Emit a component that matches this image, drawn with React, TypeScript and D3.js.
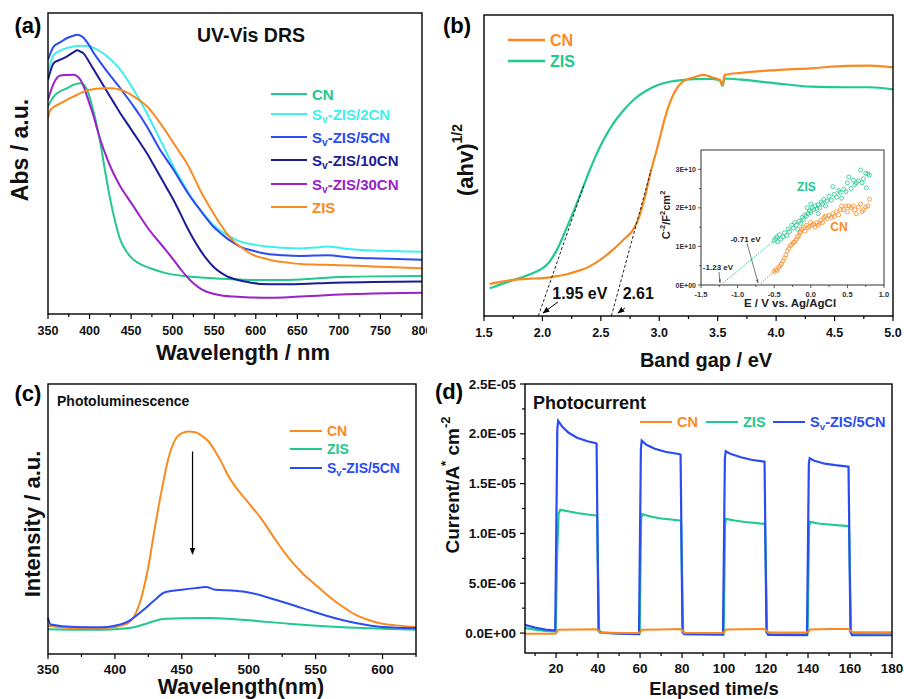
import React from 'react';
import * as d3 from 'd3';

const FONT = '"Liberation Sans", Arial, Helvetica, sans-serif';

const C_ORANGE = '#F98A1F';
const C_GREEN = '#20C98C';
const C_CYAN = '#3FEFF0';
const C_BLUE = '#2A4CF2';
const C_NAVY = '#1C1C96';
const C_PURPLE = '#9A22C8';

type Pt = [number, number];

// ---------- Panel (a): UV-Vis DRS ----------
const absCN: Pt[] = [[350,69],[357,72.3],[365,74],[373,75],[381,76.2],[389,76.7],[393,76.2],[397,74.5],[401,71.2],[405,67],[409,62.3],[413,56.8],[419,47],[425,37.9],[431,30.5],[437,24.6],[445,20.5],[453,18],[463,16.3],[473,15.2],[493,13.5],[513,12.6],[553,11.8],[593,11.3],[624,11.3],[654,11.5],[694,12.2],[740,12.5],[800,12.6]];
const abs2CN: Pt[] = [[350,80.6],[357,86.1],[365,87.5],[373,88.4],[381,88.9],[389,89.1],[397,89],[405,88.4],[413,87.2],[421,85.6],[429,83.6],[437,81.2],[445,78],[453,74.5],[461,70.8],[469,66.7],[477,62.3],[485,57.9],[493,53.4],[501,49],[509,45],[517,41.2],[525,37.7],[533,34.6],[541,31.9],[549,29.6],[557,27.8],[565,26.3],[573,25.1],[581,24.1],[597,23.1],[613,22.4],[633,22],[654,21.8],[674,22.1],[686,22.4],[700,22],[714,21.5],[750,21],[800,20.7]];
const abs5CN: Pt[] = [[350,84.5],[357,88.9],[365,90.3],[373,91.7],[381,92.5],[385,92.8],[389,92.5],[393,91.7],[399,89.5],[405,86.7],[413,83.6],[421,80.6],[429,77.8],[437,75],[445,72],[453,69],[461,65.8],[469,62.3],[477,58.4],[485,54.5],[493,51.2],[501,47.9],[509,44.3],[517,40.7],[525,37.5],[533,34.6],[541,31.7],[549,29],[557,27],[565,25.2],[573,23.7],[581,22.4],[597,21],[613,20],[633,19.5],[654,19.3],[686,19.5],[714,18.8],[750,18.4],[800,18]];
const abs10CN: Pt[] = [[350,77.8],[357,83.4],[365,84.5],[373,85.6],[381,87],[385,87.6],[389,87.2],[393,86.5],[399,84],[405,81.2],[413,77.6],[421,73.9],[429,70.3],[437,66.7],[445,63.4],[453,60.1],[461,56.8],[469,53.4],[477,49.6],[485,45.7],[493,41.8],[501,37.9],[509,33.5],[517,29],[525,24.9],[533,21.3],[541,18.2],[549,15.7],[557,13.9],[565,12.6],[573,11.7],[581,11.1],[593,10.5],[605,10],[630,9.9],[654,10],[694,10.4],[740,10.6],[800,10.8]];
const abs30CN: Pt[] = [[350,71.2],[357,76.7],[365,79.2],[373,79.4],[381,79.5],[385,79],[389,77.8],[393,75.5],[397,72.3],[401,69],[405,65.6],[409,61.6],[413,57.9],[419,53.2],[425,49],[431,45.5],[437,42.4],[445,39],[453,35.7],[461,32.3],[469,29],[477,26.1],[485,23.5],[493,20.8],[501,18],[509,15.1],[517,12.4],[525,10.2],[533,8.5],[541,7.4],[549,6.7],[561,6.1],[573,5.8],[593,5.5],[613,5.4],[633,5.5],[654,5.8],[674,6.1],[694,6.4],[740,6.8],[800,7.1]];
const absZIS: Pt[] = [[350,65.1],[353,67.8],[365,70],[373,71.2],[381,72.3],[389,73.4],[397,74.3],[407,74.8],[417,75],[427,75],[437,74.5],[445,73.6],[453,72.3],[461,70.8],[469,69],[477,66.4],[485,63.4],[493,60.2],[501,56.8],[509,53.5],[517,50.1],[525,45.8],[533,41.2],[541,37.2],[549,33.5],[557,30],[565,26.8],[573,24.3],[581,22.4],[589,20.9],[597,19.6],[610,18.5],[622,17.7],[638,17.1],[654,16.6],[674,16.4],[694,16.3],[740,15.8],[800,15.2]];
const aTicks = [350, 400, 450, 500, 550, 600, 650, 700, 750, 800];
const aLegend = ['CN', 'Sv-ZIS/2CN', 'Sv-ZIS/5CN', 'Sv-ZIS/10CN', 'Sv-ZIS/30CN', 'ZIS'];

// ---------- Panel (b): Tauc ----------
const taucCN: Pt[] = [[1.55,10.6],[1.65,11.4],[1.75,12],[1.9,12.4],[2.0,12.6],[2.1,13.1],[2.2,13.8],[2.3,14.9],[2.4,16.4],[2.5,18.8],[2.6,21.9],[2.7,25.6],[2.775,28.6],[2.83,33.2],[2.89,41.6],[2.93,48.5],[2.97,54],[3.0,58.5],[3.05,66],[3.1,71.8],[3.15,75.6],[3.2,77.8],[3.25,78.8],[3.3,79.3],[3.38,80.1],[3.45,79.3],[3.52,78.4],[3.54,76.7],[3.56,80.1],[3.7,80.8],[4.0,81.7],[4.3,82.3],[4.6,83.1],[4.8,83.2],[5.0,82.6]];
const taucZIS: Pt[] = [[1.55,9.2],[1.65,10.6],[1.75,11.9],[1.85,13.2],[1.95,14.8],[2.0,15.8],[2.05,17.5],[2.1,20.3],[2.15,24.1],[2.2,28.6],[2.25,33.2],[2.3,38],[2.35,43],[2.4,48],[2.45,52.6],[2.5,56.8],[2.6,63.6],[2.7,68.6],[2.8,72.5],[2.9,75.1],[3.0,76.9],[3.1,77.9],[3.2,78.4],[3.3,78.7],[3.45,78.8],[3.52,78.2],[3.54,76.4],[3.56,78.9],[3.7,78.5],[4.0,77.3],[4.3,76.2],[4.6,76],[4.8,76],[5.0,75.3]];
const tangentZIS: Pt[] = [[1.965, 0], [2.36, 44]];
const tangentCN: Pt[] = [[2.59, 0], [2.93, 48.5]];
const bTicks = [1.5, 2.0, 2.5, 3.0, 3.5, 4.0, 4.5, 5.0];

// Inset Mott-Schottky (y in 1E10)
const msZIS: Pt[] = [[-0.5,1.15],[-0.48,1.2],[-0.46,1.25],[-0.45,1.12],[-0.43,1.3],[-0.41,1.18],[-0.38,1.25],[-0.36,1.35],[-0.33,1.28],[-0.31,1.45],[-0.29,1.38],[-0.26,1.55],[-0.24,1.48],[-0.22,1.62],[-0.2,1.55],[-0.18,1.45],[-0.16,1.65],[-0.14,1.6],[-0.12,1.75],[-0.1,1.7],[-0.08,1.82],[-0.06,1.78],[-0.04,1.85],[-0.02,1.92],[0,1.88],[0.02,2.0],[0.04,1.95],[0.06,2.05],[0.08,1.98],[0.1,2.08],[0.12,2.0],[0.14,2.15],[0.16,2.1],[0.18,2.22],[0.2,2.05],[0.22,2.18],[0.25,2.3],[0.28,2.2],[0.3,2.55],[0.32,2.35],[0.35,2.28],[0.38,2.45],[0.4,2.4],[0.42,2.25],[0.45,2.48],[0.48,2.42],[0.5,2.65],[0.52,2.8],[0.55,2.5],[0.58,2.72],[0.6,2.6],[0.62,2.65],[0.65,2.7],[0.68,2.98],[0.7,2.65],[0.72,2.75],[0.75,2.9],[0.76,2.52],[0.78,2.88],[0.8,2.85],[0.0,2.1],[-0.05,2.0],[0.1,1.85]];
const msCN: Pt[] = [[-0.5,0.35],[-0.48,0.4],[-0.46,0.38],[-0.44,0.45],[-0.42,0.5],[-0.4,0.55],[-0.38,0.62],[-0.36,0.7],[-0.34,0.78],[-0.32,0.88],[-0.3,0.95],[-0.28,1.02],[-0.26,1.05],[-0.24,1.1],[-0.22,1.12],[-0.2,1.18],[-0.18,1.25],[-0.16,1.28],[-0.14,1.38],[-0.12,1.45],[-0.1,1.5],[-0.08,1.4],[-0.06,1.55],[-0.04,1.48],[-0.02,1.52],[0,1.62],[0.02,1.55],[0.04,1.58],[0.06,1.5],[0.08,1.62],[0.1,1.55],[0.12,1.6],[0.14,1.68],[0.16,1.62],[0.18,1.75],[0.2,1.78],[0.22,1.72],[0.25,1.8],[0.28,1.75],[0.3,1.85],[0.32,1.78],[0.35,1.9],[0.38,1.82],[0.4,1.95],[0.42,2.05],[0.45,1.95],[0.48,2.05],[0.5,1.9],[0.52,2.05],[0.55,2.0],[0.58,2.05],[0.6,1.95],[0.62,1.85],[0.65,2.02],[0.68,2.1],[0.7,1.9],[0.72,1.95],[0.75,2.02],[0.78,2.05],[0.8,2.22],[-0.15,1.35]];
const msFitZIS: Pt[] = [[-1.23, 0], [-0.5, 1.15]];
const msFitCN: Pt[] = [[-0.71, 0], [-0.5, 0.35]];
const insetXTicks = [-1.5, -1.0, -0.5, 0.0, 0.5, 1.0];
const insetYTicks = [0, 1, 2, 3];
const insetYLabels = ['0E+00', '1E+10', '2E+10', '3E+10'];

// ---------- Panel (c): PL ----------
const plCN: Pt[] = [[350,10.5],[370,9.6],[390,9.6],[400,10],[410,11.5],[415,14.5],[420,21.3],[425,32.4],[430,47.2],[435,60.8],[440,72.5],[445,79.3],[450,81.8],[455,82.4],[460,82.1],[465,80.8],[470,78.7],[475,75],[480,70.7],[485,65.7],[490,62],[500,55.9],[510,49.7],[520,42.3],[530,35.5],[540,30],[550,25.6],[560,21.3],[570,17.6],[580,14.5],[590,12.5],[600,11.2],[610,10.6],[625,10]];
const plZIS: Pt[] = [[350,9.2],[380,9],[400,9.2],[415,10],[425,11.5],[435,12.9],[450,13.2],[470,13.3],[500,12.5],[530,11.2],[560,10.2],[590,9.5],[625,9]];
const pl5CN: Pt[] = [[350,13.3],[352,10.9],[370,10],[390,9.9],[400,10.5],[410,12.1],[420,15.8],[430,20.1],[437,22.8],[450,23.8],[460,24.4],[468,24.8],[475,23.8],[490,23.4],[500,22.8],[520,20.1],[540,17],[560,13.9],[580,11.5],[600,10],[625,9.6]];
const cTicks = [350, 400, 450, 500, 550, 600];

// ---------- Panel (d): Photocurrent ----------
const pcCN: Pt[] = [[5,-7e-8],[19,-7e-8],[20,-3e-8],[21,3.3e-7],[30,3.5e-7],[39,3.8e-7],[40,3e-7],[41,2e-8],[59,0],[60,1e-7],[61,3.3e-7],[70,3.5e-7],[79,4e-7],[80,3e-7],[81,3e-8],[99,2e-8],[100,1e-7],[101,3.5e-7],[110,3.8e-7],[119,4.2e-7],[120,3e-7],[121,5e-8],[139,5e-8],[140,1e-7],[141,3.5e-7],[150,4e-7],[159,4.2e-7],[160,3e-7],[161,8e-8],[180,8e-8]];
const pcZIS: Pt[] = [[5,5e-7],[10,3.5e-7],[15,2.3e-7],[19,1.7e-7],[19.8,1.7e-7],[20.5,8e-6],[21.2,1.2e-5],[22,1.237e-5],[25,1.225e-5],[30,1.205e-5],[35,1.19e-5],[39,1.18e-5],[39.5,1.17e-5],[40.5,3e-7],[41.5,5e-8],[59,-5e-8],[59.8,-5e-8],[60.5,1.15e-5],[61,1.193e-5],[65,1.17e-5],[70,1.15e-5],[79,1.13e-5],[79.5,1.12e-5],[80.5,2e-7],[81.5,-8e-8],[99,-1e-7],[99.8,-1e-7],[100.5,1.1e-5],[101,1.146e-5],[105,1.13e-5],[110,1.115e-5],[119,1.096e-5],[119.5,1.09e-5],[120.5,2e-7],[121.5,-1e-7],[139,-1.2e-7],[139.8,-1.2e-7],[140.5,1.07e-5],[141,1.116e-5],[145,1.1e-5],[150,1.09e-5],[159,1.073e-5],[159.5,1.07e-5],[160.5,2e-7],[161.5,-5e-8],[180,0]];
const pc5CN: Pt[] = [[5,8.4e-7],[10,5.5e-7],[15,3.5e-7],[19,2.7e-7],[19.6,2.7e-7],[20.6,2.05e-5],[21,2.13e-5],[23,2.07e-5],[26,2.01e-5],[30,1.96e-5],[35,1.925e-5],[39,1.905e-5],[39.3,1.9e-5],[40.2,2e-7],[41,5e-8],[50,-5e-8],[59,-1e-7],[59.5,-1e-7],[60.4,1.85e-5],[60.8,1.932e-5],[63,1.89e-5],[67,1.85e-5],[72,1.82e-5],[79,1.795e-5],[79.3,1.79e-5],[80.2,1e-7],[81,-1.2e-7],[99,-1.5e-7],[99.5,-1.5e-7],[100.4,1.75e-5],[100.8,1.825e-5],[103,1.8e-5],[108,1.765e-5],[113,1.74e-5],[119,1.72e-5],[119.3,1.72e-5],[120.2,1e-7],[121,-1.8e-7],[139,-2e-7],[139.5,-2e-7],[140.4,1.7e-5],[140.8,1.755e-5],[143,1.73e-5],[148,1.7e-5],[153,1.685e-5],[159,1.671e-5],[159.3,1.67e-5],[160.2,1e-7],[161,-2.2e-7],[180,-2.2e-7]];
const dXTicks = [20, 40, 60, 80, 100, 120, 140, 160, 180];
const dYTicks = [0, 5e-6, 1e-5, 1.5e-5, 2e-5, 2.5e-5];
const dYLabels = ['0.0E+00', '5.0E-06', '1.0E-05', '1.5E-05', '2.0E-05', '2.5E-05'];

// ---------- helpers ----------
const txt = (size: number) => ({ fontFamily: FONT, fontWeight: 700, fontSize: size } as const);

function Sv({ rest, size }: { rest: string; size: number }) {
  const d = size * 0.3;
  return (
    <>
      <tspan>S</tspan>
      <tspan dy={d} fontSize={size * 0.68}>v</tspan>
      <tspan dy={-d}>{rest}</tspan>
    </>
  );
}

function LegendLabel({ label, size }: { label: string; size: number }) {
  if (label.startsWith('Sv')) return <Sv rest={label.slice(2)} size={size} />;
  return <>{label}</>;
}

function BottomTicks({ scale, y, major, minor, fmt, size, labelY, tickLen = 5, minorLen = 3, clip }: any) {
  return (
    <g>
      {minor.map((v: number, i: number) => (
        <line key={'m' + i} x1={scale(v)} x2={scale(v)} y1={y} y2={y + minorLen} stroke="#000" strokeWidth={1.2} />
      ))}
      {major.map((v: number, i: number) => (
        <line key={'M' + i} x1={scale(v)} x2={scale(v)} y1={y} y2={y + tickLen} stroke="#000" strokeWidth={1.2} />
      ))}
      <g clipPath={clip}>
        {major.map((v: number, i: number) => (
          <text key={'t' + i} x={scale(v)} y={labelY} textAnchor="middle" dominantBaseline="central" {...txt(size)} fill="#111">
            {fmt(v)}
          </text>
        ))}
      </g>
    </g>
  );
}

function range(a: number, b: number, step: number) {
  const out: number[] = [];
  for (let v = a; v <= b + 1e-9; v += step) out.push(+v.toFixed(10));
  return out;
}

export default function App() {
  // Panel a
  const ax = d3.scaleLinear().domain([350, 800]).range([48, 422]);
  const ay = d3.scaleLinear().domain([0, 100]).range([314, 13]);
  const aLine = d3.line<Pt>().x(d => ax(d[0])).y(d => ay(d[1])).curve(d3.curveMonotoneX);
  const aSeries = [absCN, abs2CN, abs5CN, abs10CN, abs30CN, absZIS];
  const aColors = [C_GREEN, C_CYAN, C_BLUE, C_NAVY, C_PURPLE, C_ORANGE];
  const aLegY = [94, 114, 137, 160, 184, 207];

  // Panel b
  const bx = d3.scaleLinear().domain([1.5, 5.0]).range([484, 893]);
  const by = d3.scaleLinear().domain([0, 100]).range([316, 15]);
  const bLine = d3.line<Pt>().x(d => bx(d[0])).y(d => by(d[1])).curve(d3.curveMonotoneX);
  const bLin = d3.line<Pt>().x(d => bx(d[0])).y(d => by(d[1]));

  // Inset
  const ix = d3.scaleLinear().domain([-1.5, 1.0]).range([701, 884]);
  const iy = d3.scaleLinear().domain([0, 3.5]).range([285, 150]);
  const iLin = d3.line<Pt>().x(d => ix(d[0])).y(d => iy(d[1]));

  // Panel c
  const cx = d3.scaleLinear().domain([350, 625]).range([48, 416]);
  const cy = d3.scaleLinear().domain([0, 100]).range([654, 384]);
  const cLine = d3.line<Pt>().x(d => cx(d[0])).y(d => cy(d[1])).curve(d3.curveMonotoneX);

  // Panel d
  const dx = d3.scaleLinear().domain([5.2, 180]).range([525, 892]);
  const dy = d3.scaleLinear().domain([-2e-6, 2.5e-5]).range([653, 384]);
  const dLine = d3.line<Pt>().x(d => dx(d[0])).y(d => dy(d[1]));

  const fmt1 = (v: number) => v.toFixed(1);

  return (
    <svg width={904} height={699} style={{ position: 'absolute', left: 0, top: 0, background: '#fff' }}>
      <defs>
        <clipPath id="clipA"><rect x={0} y={0} width={427} height={699} /></clipPath>
        <clipPath id="clipAPlot"><rect x={48} y={13} width={374} height={301} /></clipPath>
        <clipPath id="clipD"><rect x={525} y={384} width={367} height={269} /></clipPath>
        <marker id="arrBlack" viewBox="0 0 10 10" refX={9} refY={5} markerWidth={6} markerHeight={6} orient="auto">
          <path d="M0,1 L10,5 L0,9 z" fill="#000" />
        </marker>
        <marker id="arrSmall" viewBox="0 0 10 10" refX={9} refY={5} markerWidth={7} markerHeight={7} orient="auto">
          <path d="M0,1 L10,5 L0,9 z" fill="#000" />
        </marker>
        <marker id="arrGray" viewBox="0 0 10 10" refX={9} refY={5} markerWidth={5} markerHeight={5} orient="auto">
          <path d="M0,2 L10,5 L0,8 z" fill="#555" />
        </marker>
      </defs>

      {/* ================= Panel (a) ================= */}
      <g>
        <g clipPath="url(#clipAPlot)">
          {aSeries.map((s, i) => (
            <path key={i} d={aLine(s) || ''} fill="none" stroke={aColors[i]} strokeWidth={2} />
          ))}
        </g>
        <rect x={48} y={13} width={374} height={301} fill="none" stroke="#000" strokeWidth={1.4} />
        <BottomTicks scale={ax} y={314} major={aTicks} minor={range(375, 775, 50)} fmt={(v: number) => String(v)} size={12.5} labelY={331} clip="url(#clipA)" />
        <text x={28} y={25} textAnchor="middle" dominantBaseline="central" {...txt(22)}>(a)</text>
        <text x={251} y={35} textAnchor="middle" dominantBaseline="central" {...txt(19.5)} fill="#111">UV-Vis DRS</text>
        {aLegend.map((l, i) => (
          <g key={i}>
            <line x1={271} x2={307} y1={aLegY[i]} y2={aLegY[i]} stroke={aColors[i]} strokeWidth={2} />
            <text x={312} y={aLegY[i]} dominantBaseline="central" {...txt(15)} fill={aColors[i]}>
              <LegendLabel label={l} size={15} />
            </text>
          </g>
        ))}
        <text x={243} y={352} textAnchor="middle" dominantBaseline="central" {...txt(22)} fill="#111">Wavelength / nm</text>
        <text transform="translate(20,150) rotate(-90)" textAnchor="middle" dominantBaseline="central" {...txt(23)} fill="#111">Abs / a.u.</text>
      </g>

      {/* ================= Panel (b) ================= */}
      <g>
        <path d={bLine(taucZIS) || ''} fill="none" stroke={C_GREEN} strokeWidth={2.2} />
        <path d={bLine(taucCN) || ''} fill="none" stroke={C_ORANGE} strokeWidth={2.2} />
        <path d={bLin(tangentZIS) || ''} fill="none" stroke="#222" strokeWidth={1} strokeDasharray="3,2" />
        <path d={bLin(tangentCN) || ''} fill="none" stroke="#222" strokeWidth={1} strokeDasharray="3,2" />
        <rect x={484} y={15} width={409} height={301} fill="none" stroke="#000" strokeWidth={1.4} />
        <BottomTicks scale={bx} y={316} major={bTicks} minor={range(1.75, 4.75, 0.5)} fmt={fmt1} size={12.5} labelY={333} />
        <text x={457} y={25} textAnchor="middle" dominantBaseline="central" {...txt(22)}>(b)</text>
        <line x1={508} x2={545} y1={40} y2={40} stroke={C_ORANGE} strokeWidth={2.4} />
        <text x={550} y={40} dominantBaseline="central" {...txt(16)} fill={C_ORANGE}>CN</text>
        <line x1={508} x2={545} y1={61} y2={61} stroke={C_GREEN} strokeWidth={2.4} />
        <text x={550} y={61} dominantBaseline="central" {...txt(16)} fill={C_GREEN}>ZIS</text>
        <text x={bx(2.32)} y={by(7.6)} textAnchor="middle" dominantBaseline="central" {...txt(16)} fill="#111">1.95 eV</text>
        <text x={bx(2.82)} y={by(7.6)} textAnchor="middle" dominantBaseline="central" {...txt(16)} fill="#111">2.61</text>
        <line x1={bx(2.133)} y1={by(4.65)} x2={bx(2.005)} y2={by(1.0)} stroke="#000" strokeWidth={1} markerEnd="url(#arrSmall)" />
        <line x1={bx(2.706)} y1={by(2.66)} x2={bx(2.646)} y2={by(1.0)} stroke="#000" strokeWidth={1} markerEnd="url(#arrSmall)" />
        <text x={706} y={360} textAnchor="middle" dominantBaseline="central" {...txt(20)} fill="#111">Band gap / eV</text>
        <text transform="translate(465,160) rotate(-90)" textAnchor="middle" dominantBaseline="central" {...txt(22)} fill="#111">
          <tspan>(ahv)</tspan>
          <tspan dy={-8} fontSize={14}>1/2</tspan>
        </text>

        {/* inset */}
        <rect x={701} y={150} width={183} height={135} fill="#fff" stroke="#333" strokeWidth={1} />
        <path d={iLin(msFitZIS) || ''} fill="none" stroke={C_GREEN} strokeWidth={1} strokeDasharray="1.5,1.2" />
        <path d={iLin(msFitCN) || ''} fill="none" stroke={C_ORANGE} strokeWidth={1} strokeDasharray="1.5,1.2" />
        {msZIS.map((p, i) => (
          <circle key={'z' + i} cx={ix(p[0])} cy={iy(p[1])} r={2} fill="none" stroke={C_GREEN} strokeWidth={0.8} />
        ))}
        {msCN.map((p, i) => (
          <circle key={'c' + i} cx={ix(p[0])} cy={iy(p[1])} r={2} fill="none" stroke={C_ORANGE} strokeWidth={0.8} />
        ))}
        {range(-1.25, 0.75, 0.5).map((v, i) => (
          <line key={'im' + i} x1={ix(v)} x2={ix(v)} y1={285} y2={287} stroke="#333" strokeWidth={0.8} />
        ))}
        {insetXTicks.map((v, i) => (
          <g key={'ix' + i}>
            <line x1={ix(v)} x2={ix(v)} y1={285} y2={288} stroke="#333" strokeWidth={0.8} />
            <text x={ix(v)} y={294} textAnchor="middle" dominantBaseline="central" {...txt(7.5)} fill="#333">{v.toFixed(1)}</text>
          </g>
        ))}
        {range(0.5, 3.0, 1).map((v, i) => (
          <line key={'iym' + i} x1={701} x2={699} y1={iy(v)} y2={iy(v)} stroke="#333" strokeWidth={0.8} />
        ))}
        {insetYTicks.map((v, i) => (
          <g key={'iy' + i}>
            <line x1={701} x2={698} y1={iy(v)} y2={iy(v)} stroke="#333" strokeWidth={0.8} />
            <text x={696} y={iy(v)} textAnchor="end" dominantBaseline="central" {...txt(7)} fill="#333">{insetYLabels[i]}</text>
          </g>
        ))}
        <text x={790} y={303} textAnchor="middle" dominantBaseline="central" {...txt(11.5)} fill="#222">E / V vs. Ag/AgCl</text>
        <text transform="translate(666,215) rotate(-90)" textAnchor="middle" dominantBaseline="central" {...txt(11)} fill="#222">
          <tspan>C</tspan>
          <tspan dy={-4} fontSize={7.5}>-2</tspan>
          <tspan dy={4}>/F</tspan>
          <tspan dy={-4} fontSize={7.5}>2</tspan>
          <tspan dy={4}>cm</tspan>
          <tspan dy={-4} fontSize={7.5}>2</tspan>
        </text>
        <text x={ix(-0.06)} y={iy(2.55)} textAnchor="middle" dominantBaseline="central" {...txt(12)} fill={C_GREEN}>ZIS</text>
        <text x={ix(0.385)} y={iy(1.5)} textAnchor="middle" dominantBaseline="central" {...txt(12)} fill={C_ORANGE}>CN</text>
        <text x={ix(-1.268)} y={iy(0.466)} textAnchor="middle" dominantBaseline="central" {...txt(8)} fill="#222">-1.23 eV</text>
        <text x={ix(-0.892)} y={iy(1.19)} textAnchor="middle" dominantBaseline="central" {...txt(8)} fill="#222">-0.71 eV</text>
        <line x1={ix(-1.254)} y1={iy(0.337)} x2={ix(-1.24)} y2={iy(0.052)} stroke="#555" strokeWidth={0.8} markerEnd="url(#arrGray)" />
        <line x1={ix(-0.872)} y1={iy(1.088)} x2={ix(-0.72)} y2={iy(0.052)} stroke="#555" strokeWidth={0.8} markerEnd="url(#arrGray)" />
      </g>

      {/* ================= Panel (c) ================= */}
      <g>
        <path d={cLine(plZIS) || ''} fill="none" stroke={C_GREEN} strokeWidth={2} />
        <path d={cLine(plCN) || ''} fill="none" stroke={C_ORANGE} strokeWidth={2} />
        <path d={cLine(pl5CN) || ''} fill="none" stroke={C_BLUE} strokeWidth={2} />
        <rect x={48} y={384} width={368} height={270} fill="none" stroke="#000" strokeWidth={1.4} />
        <BottomTicks scale={cx} y={654} major={cTicks} minor={range(375, 625, 50)} fmt={(v: number) => String(v)} size={13.5} labelY={669} />
        <text x={28} y={393} textAnchor="middle" dominantBaseline="central" {...txt(22)}>(c)</text>
        <text x={57} y={401} dominantBaseline="central" {...txt(14)} fill="#111">Photoluminescence</text>
        {[['CN', C_ORANGE, 431], ['ZIS', C_GREEN, 449], ['Sv-ZIS/5CN', C_BLUE, 468]].map(([l, c, y], i) => (
          <g key={i}>
            <line x1={290} x2={322} y1={y as number} y2={y as number} stroke={c as string} strokeWidth={2} />
            <text x={327} y={y as number} dominantBaseline="central" {...txt(14)} fill={c as string}>
              <LegendLabel label={l as string} size={14} />
            </text>
          </g>
        ))}
        <line x1={cx(458)} x2={cx(458)} y1={cy(75)} y2={cy(37)} stroke="#000" strokeWidth={1.2} markerEnd="url(#arrBlack)" />
        <text x={241} y={687} textAnchor="middle" dominantBaseline="central" {...txt(21.5)} fill="#111">Wavelength(nm)</text>
        <text transform="translate(32,524) rotate(-90)" textAnchor="middle" dominantBaseline="central" {...txt(22)} fill="#111">Intensity / a.u.</text>
      </g>

      {/* ================= Panel (d) ================= */}
      <g>
        <g clipPath="url(#clipD)">
          <path d={dLine(pcZIS) || ''} fill="none" stroke={C_GREEN} strokeWidth={2.2} />
          <path d={dLine(pc5CN) || ''} fill="none" stroke={C_BLUE} strokeWidth={2.2} />
          <path d={dLine(pcCN) || ''} fill="none" stroke={C_ORANGE} strokeWidth={2} />
        </g>
        <rect x={525} y={384} width={367} height={269} fill="none" stroke="#000" strokeWidth={1.4} />
        <BottomTicks scale={dx} y={653} major={dXTicks} minor={range(10, 170, 20)} fmt={(v: number) => String(v)} size={13.5} labelY={668} />
        {range(2.5e-6, 2.25e-5, 5e-6).map((v, i) => (
          <line key={'dym' + i} x1={525} x2={522} y1={dy(v)} y2={dy(v)} stroke="#000" strokeWidth={1.2} />
        ))}
        {dYTicks.map((v, i) => (
          <g key={'dy' + i}>
            <line x1={525} x2={520} y1={dy(v)} y2={dy(v)} stroke="#000" strokeWidth={1.2} />
            <text x={516} y={dy(v)} textAnchor="end" dominantBaseline="central" {...txt(13.5)} fill="#111">{dYLabels[i]}</text>
          </g>
        ))}
        <text x={449} y={391} textAnchor="middle" dominantBaseline="central" {...txt(22)}>(d)</text>
        <text x={533} y={403} dominantBaseline="central" {...txt(18)} fill="#111">Photocurrent</text>
        {[['CN', C_ORANGE, 640], ['ZIS', C_GREEN, 706], ['Sv-ZIS/5CN', C_BLUE, 773]].map(([l, c, x], i) => (
          <g key={i}>
            <line x1={x as number} x2={(x as number) + 32} y1={422} y2={422} stroke={c as string} strokeWidth={2} />
            <text x={(x as number) + 37} y={422} dominantBaseline="central" {...txt(14.5)} fill={c as string}>
              <LegendLabel label={l as string} size={14.5} />
            </text>
          </g>
        ))}
        <text x={714} y={688} textAnchor="middle" dominantBaseline="central" {...txt(18.5)} fill="#111">Elapsed time/s</text>
        <text transform="translate(452,485) rotate(-90)" textAnchor="middle" dominantBaseline="central" {...txt(19)} fill="#111">
          <tspan>Current/A</tspan>
          <tspan dy={-7} fontSize={13}>*</tspan>
          <tspan dy={7}> cm</tspan>
          <tspan dy={-7} fontSize={13}>-2</tspan>
        </text>
      </g>
    </svg>
  );
}
